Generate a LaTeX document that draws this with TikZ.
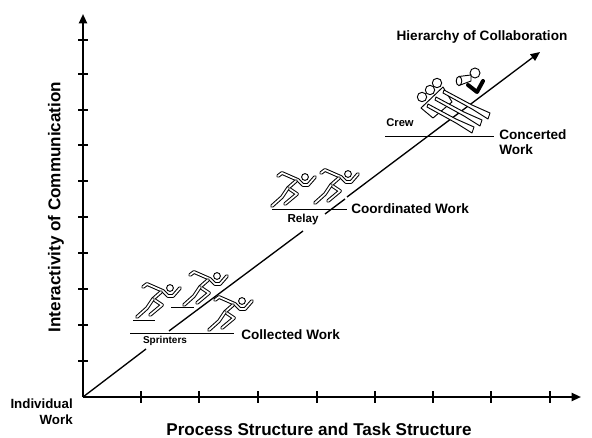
\documentclass[tikz,border=0pt]{standalone}
\usepackage{fontspec}
\setmainfont{Liberation Sans}
\usetikzlibrary{arrows.meta}
\tikzset{
 axis/.style={line width=1.5pt,-{Triangle[length=7pt,width=6pt]}},
 tick/.style={line width=1.1pt},
 diag/.style={line width=1pt},
 rule/.style={line width=0.6pt},
 lab/.style={font=\bfseries\fontsize{10.2}{11.8}\selectfont,inner sep=0pt,align=left},
 small/.style={font=\bfseries\fontsize{7.5}{9}\selectfont,inner sep=0pt},
 thin line/.style={line width=0.7pt},
 limb/.style={line width=0.75pt,double=white,double distance=1.3pt,line join=round,line cap=round},
 runner/.pic={
  \draw[limb] (-27,-1) -- (-23,-4) -- (-7,3) -- (-2,8) -- (3,8) -- (10,0);
  \draw[limb] (-9,4) -- (-17,11) -- (-8,17) -- (-20,27);
  \draw[limb] (-17,11) -- (-23,20) -- (-33,29);
  \draw[thin line,fill=white] (0,0) circle (3.4);
 },
 oar/.pic={
  \draw[thin line,fill=white,line join=round] (0,0) -- (28,15) -- (46,23) -- (44,29) -- (28,19) -- (-1,3) -- cycle;
 }
}
\begin{document}
\begin{tikzpicture}[x=0.75pt,y=-0.75pt]
\useasboundingbox (0,0) rectangle (592,438);
\coordinate (O) at (83,397);
\coordinate (T) at (83,14);
\coordinate (R) at (581,397);
\coordinate (D) at (540,52);
\coordinate (s1) at (146,349);
\coordinate (s2) at (169,331);
\coordinate (r1) at (303,231);
\coordinate (r2) at (325,214);
\coordinate (r3) at (345,199);
\coordinate (r4) at (347,197);
\draw[diag] (O) -- (s1);
\draw[diag] (s2) -- (r1);
\draw[diag] (r2) -- (r3);
\draw[diag,-{Triangle[length=7pt,width=6pt]}] (r4) -- (D);
\draw[axis] (O) -- (T);
\draw[axis] (O) -- (R);
\foreach \y in {361,325,289,253,217,181,145,110,74,40} \draw[tick] (78,\y) -- (88,\y);
\foreach \x in {141,199,258,317,375,433,491,550} \draw[tick] (\x,391) -- (\x,403);
% sprinters
\pic at (170,288) {runner};
\pic at (217,276) {runner};
\pic at (242,301) {runner};
\draw[rule] (133,320) -- (155,320);
\draw[rule] (171,307) -- (194,307);
\draw[rule] (130,333) -- (234,333);
\node[small] (sp) at (165,341) {Sprinters};
\node[lab,anchor=west] (cw) at (241,335) {Collected Work};
% relay
\pic at (305,177) {runner};
\pic at (348,174) {runner};
\draw[rule] (272,209) -- (347,209);
\node[small,font=\bfseries\fontsize{8.7}{10}\selectfont] (re) at (303,220) {Relay};
\node[lab,anchor=west] (co) at (351,209) {Coordinated Work};
% crew
\draw[thin line,fill=white] (437,83) circle (4.7);
\draw[thin line,fill=white] (430,90) circle (4.7);
\draw[thin line,fill=white] (422,97) circle (4.7);
\draw[thin line,fill=white,line join=round] (421,108) -- (443,87) -- (452,102) -- (433,118) -- cycle;
\pic at (444,90) {oar};
\pic at (436,97) {oar};
\pic at (428,104) {oar};
\draw[thin line,fill=white] (475,73) circle (5);
\draw[thin line,fill=white] (459,76.5) -- (471,75) -- (471,81) -- (459,85.5) -- cycle;
\draw[thin line,fill=white] (459,81) ellipse (2.8 and 4.5);
\draw[line width=3pt,line cap=round,line join=round] (468,85) -- (477,92) -- (483,81);
\draw[rule] (385,136) -- (494,136);
\node[small,font=\bfseries\fontsize{8.4}{10}\selectfont] (cr) at (400,123) {Crew};
\node[lab,anchor=north west] (cn) at (499,129) {Concerted\\Work};
% labels
\node[lab] (hc) at (482,37) {Hierarchy of Collaboration};
\node[lab,rotate=90,font=\bfseries\fontsize{12.8}{14}\selectfont] (yl) at (56,207) {Interactivity of Communication};
\node[lab,font=\bfseries\fontsize{12.8}{14}\selectfont] (xl) at (319,429) {Process Structure and Task Structure};
\node[lab,align=right,font=\bfseries\fontsize{10}{11.8}\selectfont,anchor=north east] (iw) at (73,399) {Individual\\Work};
\end{tikzpicture}
\end{document}
